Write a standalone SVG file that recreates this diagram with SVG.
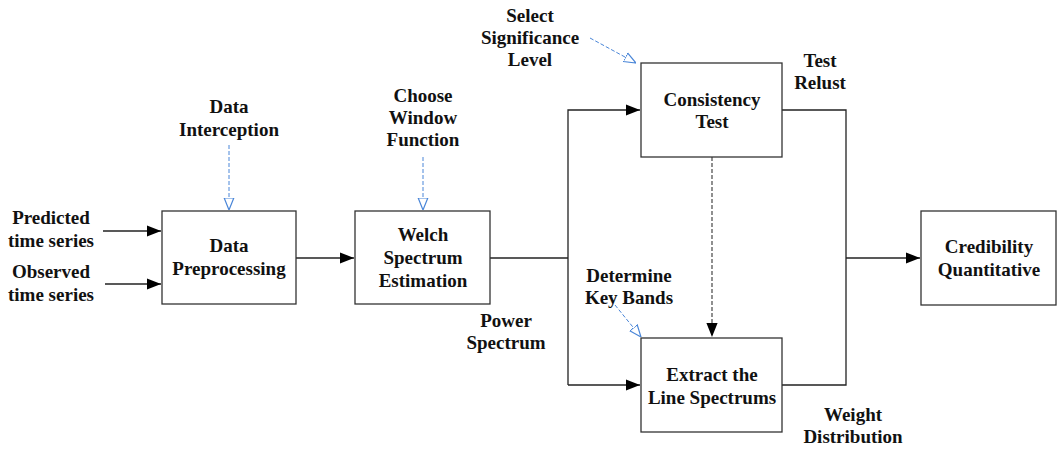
<svg xmlns="http://www.w3.org/2000/svg" width="1060" height="450" viewBox="0 0 1060 450">
  <style>
    text { font-family: "Liberation Serif", "Times New Roman", serif; font-weight: bold; font-size: 19px; fill: #111; text-anchor: middle; }
    .box { fill: #fff; stroke: #333; stroke-width: 1.3; }
    .flow { fill: none; stroke: #222; stroke-width: 1.3; }
    .ctrl { fill: none; stroke: #4a86d8; stroke-width: 1; stroke-dasharray: 4 2; }
    .dep { fill: none; stroke: #555; stroke-width: 1.3; stroke-dasharray: 4 2; }
  </style>
  <defs>
    <marker id="solid" viewBox="0 0 10 10" refX="10" refY="5" markerWidth="14" markerHeight="14" markerUnits="userSpaceOnUse" orient="auto">
      <path d="M0,1 L10,5 L0,9 Z" fill="#000"/>
    </marker>
    <marker id="hollow" viewBox="0 0 10 10" refX="10" refY="5" markerWidth="12" markerHeight="12" markerUnits="userSpaceOnUse" orient="auto">
      <path d="M0,1 L10,5 L0,9 Z" fill="#fff" stroke="#4a86d8" stroke-width="1"/>
    </marker>
  </defs>

  <!-- connectors -->
  <g id="connectors">
    <path class="flow" d="M103,231 H161" marker-end="url(#solid)"/>
    <path class="flow" d="M105,284 H161" marker-end="url(#solid)"/>
    <path class="flow" d="M296,258 H354" marker-end="url(#solid)"/>
    <path class="flow" d="M490,258 H568"/>
    <path class="flow" d="M568,385 V110 H640" marker-end="url(#solid)"/>
    <path class="flow" d="M568,385 H640" marker-end="url(#solid)"/>
    <path class="flow" d="M782,110 H846 V385 H782"/>
    <path class="flow" d="M846,258 H920" marker-end="url(#solid)"/>
    <path class="dep" d="M712,157 V337" marker-end="url(#solid)"/>
    <path class="ctrl" d="M229,145 V210" marker-end="url(#hollow)"/>
    <path class="ctrl" d="M423,157 V210" marker-end="url(#hollow)"/>
    <path class="ctrl" d="M590,38 L636,63" marker-end="url(#hollow)"/>
    <path class="ctrl" d="M615,305 L641,337" marker-end="url(#hollow)"/>
  </g>

  <!-- process nodes -->
  <g id="node-preprocessing">
    <rect class="box" x="162" y="211" width="134" height="93"/>
    <text x="229" y="252">Data</text>
    <text x="229" y="275">Preprocessing</text>
  </g>
  <g id="node-welch">
    <rect class="box" x="355" y="211" width="135" height="93"/>
    <text x="423" y="241">Welch</text>
    <text x="423" y="264">Spectrum</text>
    <text x="423" y="287">Estimation</text>
  </g>
  <g id="node-consistency">
    <rect class="box" x="641" y="63" width="141" height="94"/>
    <text x="712" y="106">Consistency</text>
    <text x="712" y="128">Test</text>
  </g>
  <g id="node-extract">
    <rect class="box" x="641" y="338" width="141" height="94"/>
    <text x="712" y="381">Extract the</text>
    <text x="712" y="404">Line Spectrums</text>
  </g>
  <g id="node-credibility">
    <rect class="box" x="921" y="211" width="135" height="94"/>
    <text x="989" y="253">Credibility</text>
    <text x="989" y="276">Quantitative</text>
  </g>

  <!-- inputs and annotations -->
  <g id="label-predicted">
    <text x="51" y="224">Predicted</text>
    <text x="51" y="247">time series</text>
  </g>
  <g id="label-observed">
    <text x="51" y="278">Observed</text>
    <text x="51" y="301">time series</text>
  </g>
  <g id="label-interception">
    <text x="229" y="113">Data</text>
    <text x="229" y="136">Interception</text>
  </g>
  <g id="label-window">
    <text x="423" y="102">Choose</text>
    <text x="423" y="124">Window</text>
    <text x="423" y="146">Function</text>
  </g>
  <g id="label-significance">
    <text x="530" y="22">Select</text>
    <text x="530" y="44">Significance</text>
    <text x="530" y="66">Level</text>
  </g>
  <g id="label-test-result">
    <text x="820" y="67">Test</text>
    <text x="820" y="89">Relust</text>
  </g>
  <g id="label-power">
    <text x="506" y="327">Power</text>
    <text x="506" y="349">Spectrum</text>
  </g>
  <g id="label-bands">
    <text x="629" y="282">Determine</text>
    <text x="629" y="304">Key Bands</text>
  </g>
  <g id="label-weight">
    <text x="853" y="421">Weight</text>
    <text x="853" y="443">Distribution</text>
  </g>
</svg>
